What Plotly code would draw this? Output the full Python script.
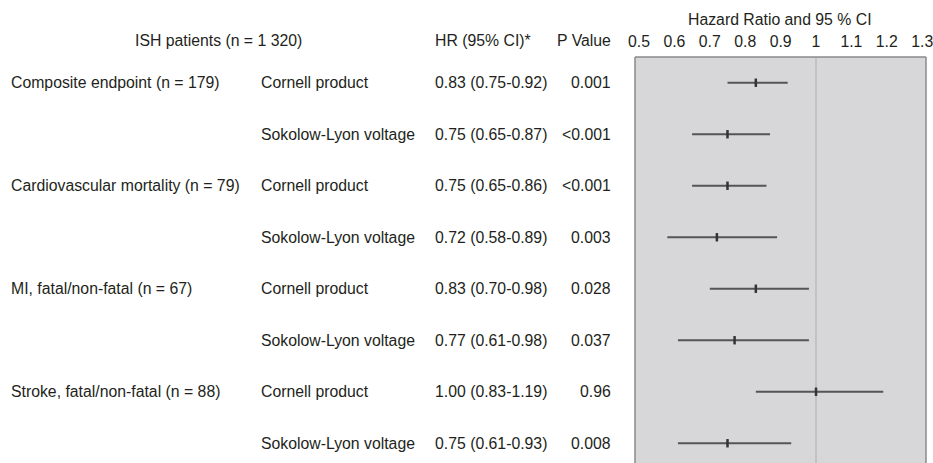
import plotly.graph_objects as go

endpoints = ["Composite endpoint (n = 179)", "", "Cardiovascular mortality (n = 79)", "",
             "MI, fatal/non-fatal (n = 67)", "", "Stroke, fatal/non-fatal (n = 88)", ""]
measures = ["Cornell product", "Sokolow-Lyon voltage"] * 4
hr = [0.83, 0.75, 0.75, 0.72, 0.83, 0.77, 1.00, 0.75]
ci_low = [0.75, 0.65, 0.65, 0.58, 0.70, 0.61, 0.83, 0.61]
ci_high = [0.92, 0.87, 0.86, 0.89, 0.98, 0.98, 1.19, 0.93]
p_values = ["0.001", "<0.001", "<0.001", "0.003", "0.028", "0.037", "0.96", "0.008"]
tick_vals = [0.5, 0.6, 0.7, 0.8, 0.9, 1.0, 1.1, 1.2, 1.3]
tick_text = ["0.5", "0.6", "0.7", "0.8", "0.9", "1", "1.1", "1.2", "1.3"]

rows = list(range(1, len(hr) + 1))
W, H = 933, 463
FONT = "Liberation Sans, Arial, sans-serif"
TXT = "#231f20"
FS = 15.8

def px_x(p):
    return p / W

def px_y(p):
    return 1 - p / H

fig = go.Figure()
fig.add_trace(go.Scatter(
    x=hr, y=rows, mode="markers",
    marker=dict(symbol="line-ns", size=6, line=dict(width=2.5, color="#333333"), color="#333333"),
    error_x=dict(type="data", symmetric=False,
                 array=[h - hv for h, hv in zip(ci_high, hr)],
                 arrayminus=[hv - l for hv, l in zip(hr, ci_low)],
                 thickness=2, width=0, color="#555555"),
    showlegend=False, hoverinfo="skip"))

x0, x1 = px_x(635), px_x(926)
ytop = px_y(57)
plot_h = 463 - 57
fig.update_layout(
    width=W, height=H, margin=dict(l=0, r=0, t=0, b=0),
    paper_bgcolor="white", plot_bgcolor="#d7d7d9",
    font=dict(family=FONT, size=FS, color=TXT),
    xaxis=dict(domain=[x0, x1], range=[0.4887, 1.3107], side="top", automargin=False,
               tickvals=tick_vals, ticktext=tick_text, showgrid=False, zeroline=False,
               ticks="", showline=False, ticklabelstandoff=6, ticklabeloverflow="allow",
               tickfont=dict(size=FS, color=TXT)),
    yaxis=dict(domain=[0, ytop], range=[0.5 + plot_h / 51.5, 0.5], showgrid=False,
               automargin=False, zeroline=False, showticklabels=False, ticks="", showline=False),
)

# frame (left, top, right)
for xa, ya, xb, yb in [(x0, 0, x0, ytop), (x0, ytop, x1, ytop), (x1, 0, x1, ytop)]:
    fig.add_shape(type="line", xref="paper", yref="paper", x0=xa, y0=ya, x1=xb, y1=yb,
                  line=dict(color="#8a8a8a", width=1.5))
fig.add_shape(type="line", xref="x", yref="paper", x0=1, x1=1, y0=0, y1=ytop, layer="below",
              line=dict(color="#adadad", width=1))

def ann(text, px, py_pix=None, row=None, anchor="left"):
    if row is not None:
        fig.add_annotation(x=px_x(px), y=row, xref="paper", yref="y", text=text, showarrow=False,
                           xanchor=anchor, yanchor="middle", font=dict(size=FS, color=TXT))
    else:
        fig.add_annotation(x=px_x(px), y=px_y(py_pix), xref="paper", yref="paper", text=text,
                           showarrow=False, xanchor=anchor, yanchor="middle",
                           font=dict(size=FS, color=TXT))

ann("Hazard Ratio and 95 % CI", 780, 19, anchor="center")
ann("ISH patients (n = 1 320)", 133, 41)
ann("HR (95% CI)*", 433, 41)
ann("P Value", 613, 41, anchor="right")

for r, e, m, h, lo, hi, p in zip(rows, endpoints, measures, hr, ci_low, ci_high, p_values):
    if e:
        ann(e, 9, row=r)
    ann(m, 259, row=r)
    ann(f"{h:.2f} ({lo:.2f}-{hi:.2f})", 433, row=r)
    ann(p, 613, row=r, anchor="right")

fig.write_html("out.html", config={"displayModeBar": False},
               post_script="document.body.style.margin='0';document.body.style.overflow='hidden';")
